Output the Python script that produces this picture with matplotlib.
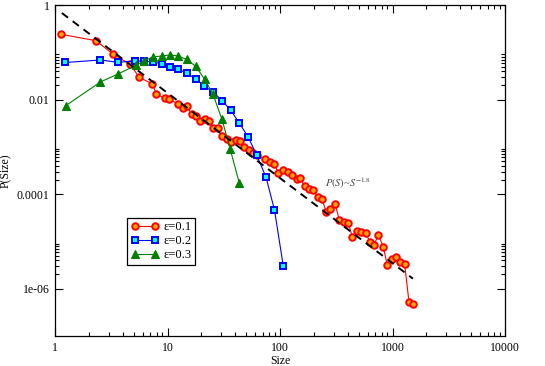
import numpy as np
import matplotlib
matplotlib.use("Agg")
from matplotlib import pyplot as plt
from matplotlib.ticker import FixedLocator, FixedFormatter, NullFormatter

plt.rcParams['font.family'] = ['Liberation Serif', 'DejaVu Serif']
plt.rcParams['mathtext.fontset'] = 'stix'

# values, stored as log10 (both axes are logarithmic)
logs_01 = [0.053, 0.364, 0.518, 0.667, 0.749, 0.865, 0.902, 0.978, 1.013, 1.096,
           1.140, 1.173, 1.215, 1.253, 1.293, 1.333, 1.371, 1.404, 1.447, 1.482,
           1.526, 1.564, 1.609, 1.644, 1.684, 1.724, 1.756, 1.793, 1.867, 1.911,
           1.951, 1.985, 2.029, 2.067, 2.104, 2.147, 2.182, 2.218, 2.260, 2.296,
           2.335, 2.373, 2.412, 2.447, 2.489, 2.527, 2.566, 2.607, 2.644, 2.684,
           2.723, 2.760, 2.800, 2.836, 2.874, 2.918, 2.954, 2.993, 3.031, 3.069,
           3.108, 3.147, 3.185]
logp_01 = [-0.619, -0.755, -1.042, -1.254, -1.529, -1.670, -1.888, -1.973, -1.994, -2.093,
           -2.184, -2.135, -2.315, -2.357, -2.452, -2.414, -2.452, -2.611, -2.607, -2.776,
           -2.829, -2.890, -2.865, -2.869, -3.002, -3.076, -3.123, -3.171, -3.262, -3.319,
           -3.362, -3.558, -3.499, -3.524, -3.588, -3.689, -3.668, -3.827, -3.884, -3.905,
           -4.059, -4.106, -4.387, -4.307, -4.201, -4.545, -4.592, -4.609, -4.911, -4.789,
           -4.806, -4.827, -5.004, -5.074, -4.863, -5.110, -5.507, -5.364, -5.328, -5.440,
           -5.482, -6.290, -6.321]

logs_02 = [0.093, 0.403, 0.556, 0.714, 0.791, 0.871, 0.948, 1.022, 1.096, 1.173,
           1.253, 1.327, 1.407, 1.487, 1.562, 1.638, 1.718, 1.794, 1.876, 1.951, 2.029]
logp_02 = [-1.216, -1.163, -1.211, -1.184, -1.190, -1.201, -1.247, -1.304, -1.359, -1.444,
           -1.564, -1.712, -1.844, -2.025, -2.226, -2.495, -2.795, -3.182, -3.645, -4.334, -5.518]

logs_03 = [0.095, 0.404, 0.560, 0.716, 0.791, 0.868, 0.948, 1.022, 1.096, 1.171,
           1.253, 1.329, 1.404, 1.484, 1.558, 1.638]
logp_03 = [-2.129, -1.628, -1.459, -1.279, -1.184, -1.099, -1.078, -1.057, -1.078, -1.152,
           -1.300, -1.571, -1.886, -2.416, -3.055, -3.763]

# power law guide P(S) ~ S^-1.8
fit_exp = -1.8
fit_logA = -0.06
fit_range = [1.15, 1520]

fig = plt.figure(figsize=(5.45, 3.66), dpi=100)
ax = fig.add_axes([55/545, 1-336/366, 450/545, 331/366])

ax.plot(10**np.array(logs_01), 10**np.array(logp_01), '-o', color='red', lw=0.8,
        ms=4.7, mfc='#ffa500', mec='red', mew=1.4, label='ε=0.1', zorder=3)
ax.plot(10**np.array(logs_02), 10**np.array(logp_02), '-s', color='blue', lw=0.8,
        ms=4.4, mfc='#00ffff', mec='blue', mew=1.4, label='ε=0.2', zorder=4)
ax.plot(10**np.array(logs_03), 10**np.array(logp_03), '-^', color='green', lw=0.8,
        ms=6.3, mfc='green', mec='green', mew=0.8, label='ε=0.3', zorder=5)

s = np.array(fit_range)
ax.plot(s, 10**fit_logA * s**fit_exp, '--', color='black', lw=1.4, dashes=(4, 3), zorder=6)

ax.text(251, 1.73e-4, r'$P(S)$~$S^{-1.8}$', fontsize=7.5, color='#444444',
        va='center', ha='left', style='italic')

ax.set_xscale('log')
ax.set_yscale('log')
ax.set_xlim(1, 10000)
ax.set_ylim(1e-7, 1)

ax.xaxis.set_major_locator(FixedLocator([1, 10, 100, 1000, 10000]))
ax.xaxis.set_major_formatter(FixedFormatter(['1', '10', '100', '1000', '10000']))
ax.xaxis.set_minor_locator(FixedLocator([k * 10.0**m for m in range(0, 4) for k in range(2, 10)]))
ax.xaxis.set_minor_formatter(NullFormatter())

ax.yaxis.set_major_locator(FixedLocator([1e-6, 1e-4, 1e-2, 1]))
ax.yaxis.set_major_formatter(FixedFormatter(['1e-06', '0.0001', '0.01', '1']))
ax.yaxis.set_minor_locator(FixedLocator([k * 10.0**m for m in (-6, -4, -2) for k in range(2, 10)]))
ax.yaxis.set_minor_formatter(NullFormatter())

ax.tick_params(which='both', direction='in', top=True, right=True, labelsize=8.5, width=0.8)
ax.tick_params(which='major', length=6, pad=4)
ax.tick_params(which='minor', length=3)
for sp in ax.spines.values():
    sp.set_linewidth(0.9)

ax.set_xlabel('Size', fontsize=8.5, labelpad=1)
ax.set_ylabel('P(Size)', fontsize=8.5)
ax.yaxis.set_label_coords(-0.095, 0.5)

leg = ax.legend(loc='lower left', bbox_to_anchor=(0.16, 0.215), numpoints=2,
                fontsize=9, fancybox=False, framealpha=1, edgecolor='black',
                handlelength=2.2, handletextpad=0.4, borderpad=0.3, labelspacing=0.15,
                borderaxespad=0)
leg.get_frame().set_linewidth(0.9)

fig.savefig('out.png', dpi=100)
